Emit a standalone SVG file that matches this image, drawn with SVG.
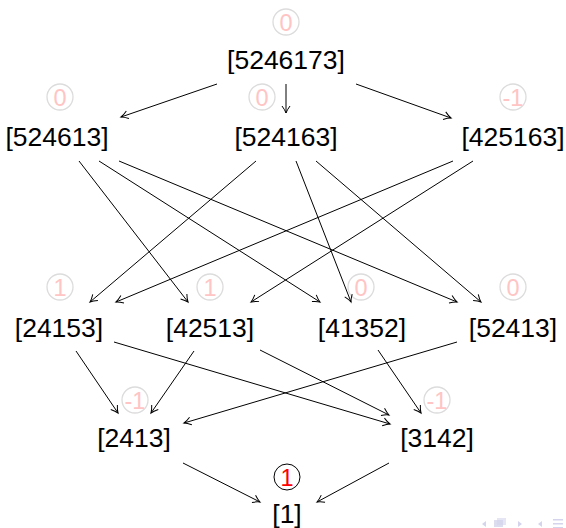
<svg xmlns="http://www.w3.org/2000/svg" width="566" height="528" viewBox="0 0 566 528">
<defs>
<marker id="a" markerUnits="userSpaceOnUse" markerWidth="12" markerHeight="12" viewBox="-9 -6 12 12" refX="0" refY="0" orient="auto">
<path d="M -7 -4 Q -3 -1 0 0 Q -3 1 -7 4" fill="none" stroke="#000" stroke-width="1"/>
</marker>
</defs>
<style>
.n{font-family:"Liberation Sans",Arial,sans-serif;font-size:26.5px;text-anchor:middle;fill:#000}
.c{fill:none;stroke:#dcdcdc;stroke-width:1.3}
.v{font-family:"Liberation Sans",Arial,sans-serif;font-size:23.5px;text-anchor:middle;fill:#ffc4c4}
.e line{stroke:#000;stroke-width:1;marker-end:url(#a)}
.nav{fill:#d4d4ec;stroke:none}
</style>
<rect width="566" height="528" fill="#fff"/>
<g id="n5246173"><circle class="c" cx="286" cy="22" r="13"/><text class="v" x="286" y="30.5">0</text><text class="n" x="286" y="69">[5246173]</text></g>
<g id="n524613"><circle class="c" cx="60" cy="97" r="13"/><text class="v" x="60" y="105.5">0</text><text class="n" x="57" y="146">[524613]</text></g>
<g id="n524163"><circle class="c" cx="262" cy="97" r="13"/><text class="v" x="262" y="105.5">0</text><text class="n" x="286" y="146">[524163]</text></g>
<g id="n425163"><circle class="c" cx="513" cy="97" r="13"/><text class="v" x="513" y="105.5">-1</text><text class="n" x="513" y="146">[425163]</text></g>
<g id="n24153"><circle class="c" cx="60" cy="287" r="13"/><text class="v" x="60" y="295.5">1</text><text class="n" x="59" y="337">[24153]</text></g>
<g id="n42513"><circle class="c" cx="210" cy="287" r="13"/><text class="v" x="210" y="295.5">1</text><text class="n" x="210" y="337">[42513]</text></g>
<g id="n41352"><circle class="c" cx="361" cy="287" r="13"/><text class="v" x="361" y="295.5">0</text><text class="n" x="362" y="337">[41352]</text></g>
<g id="n52413"><circle class="c" cx="513" cy="287" r="13"/><text class="v" x="513" y="295.5">0</text><text class="n" x="513" y="337">[52413]</text></g>
<g id="n2413"><circle class="c" cx="135" cy="400" r="13"/><text class="v" x="135" y="408.5">-1</text><text class="n" x="134" y="447">[2413]</text></g>
<g id="n3142"><circle class="c" cx="437" cy="400" r="13"/><text class="v" x="437" y="408.5">-1</text><text class="n" x="437" y="447">[3142]</text></g>
<g id="n1"><circle cx="287" cy="477" r="13" fill="none" stroke="#000" stroke-width="1"/><text x="287" y="485.5" font-family="Liberation Sans, Arial, sans-serif" font-size="23.5" text-anchor="middle" fill="#ff0000">1</text><text class="n" x="287" y="523">[1]</text></g>
<g id="edges" class="e">
<line x1="217" y1="84" x2="121" y2="117"/>
<line x1="286" y1="84" x2="286" y2="113"/>
<line x1="356" y1="84" x2="451" y2="118"/>
<line x1="79" y1="161" x2="188" y2="302"/>
<line x1="99" y1="161" x2="320" y2="302"/>
<line x1="119" y1="161" x2="457" y2="302"/>
<line x1="256" y1="161" x2="90" y2="302"/>
<line x1="296" y1="161" x2="351" y2="302"/>
<line x1="316" y1="161" x2="481" y2="302"/>
<line x1="453" y1="161" x2="116" y2="302"/>
<line x1="473" y1="161" x2="251" y2="302"/>
<line x1="76" y1="351" x2="118" y2="413"/>
<line x1="114" y1="342" x2="390" y2="424"/>
<line x1="194" y1="351" x2="151" y2="413"/>
<line x1="260" y1="350" x2="389" y2="415"/>
<line x1="378" y1="350" x2="421" y2="413"/>
<line x1="457" y1="342" x2="184" y2="423"/>
<line x1="183" y1="463" x2="260" y2="502"/>
<line x1="389" y1="463" x2="317" y2="502"/>
</g>
<g id="nav">
<path class="nav" d="M482 524 L486 521 L486 527 Z"/>
<rect class="nav" x="494" y="520" width="9" height="7" fill-opacity="0.8"/>
<rect class="nav" x="497" y="518" width="9" height="7" fill-opacity="0.6"/>
<path class="nav" d="M522 524 L518 521 L518 527 Z"/>
<path class="nav" d="M538 524 L542 521 L542 527 Z"/>
<rect class="nav" x="553" y="519" width="10" height="1.5"/>
<rect class="nav" x="553" y="523" width="10" height="1.5"/>
<rect class="nav" x="553" y="527" width="10" height="1.5"/>
</g>
</svg>
